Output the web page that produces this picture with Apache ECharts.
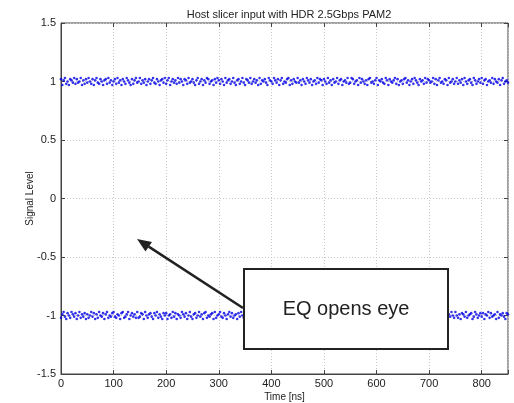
<!DOCTYPE html>
<html>
<head>
<meta charset="utf-8">
<script src="https://cdn.jsdelivr.net/npm/echarts@6/dist/echarts.min.js"></script>
<style>html,body{margin:0;padding:0;background:#fff}#c{width:514px;height:403px}</style>
</head>
<body>
<div id="c"></div>
<script>
// Sampling grid of the captured waveform (ns)
const tStart = 0, tStep = 2.5, tEnd = 850;
// Nominal PAM2 levels
const highLevel = 1, lowLevel = -1;
// Noise around the high level, in hundredths (read/estimated from the picture)
const highDev = [
2,-3,1,3,-2,0,-3,2,1,-1,3,-2,2,-1,0,3,-3,1,-2,2,
-1,3,0,-2,2,-3,1,3,-1,-2,2,0,-3,1,2,-2,3,-1,1,-3,
0,2,-2,3,-1,1,-3,2,0,-2,3,1,-1,-3,2,-2,1,3,-1,0,
3,-2,1,-1,2,-3,0,2,-2,1,3,-1,-2,2,0,-3,1,2,-1,3,
-2,1,3,-3,0,2,-1,1,-2,3,-1,2,0,-3,2,1,-2,3,-1,0,
2,-1,-3,1,3,-2,0,2,-3,1,-1,3,2,-2,0,1,-3,2,-1,3,
1,-2,2,0,-3,3,-1,1,2,-2,0,3,-1,-3,1,2,-2,0,3,-1,
-3,2,1,-1,3,-2,0,2,-1,1,-3,3,-2,1,0,2,-1,-3,3,1,
0,-2,3,1,-1,2,-3,1,3,-2,0,-1,2,3,-3,1,-2,2,0,-1,
3,-1,1,-3,2,0,-2,3,1,-1,2,-3,0,1,-2,3,-1,2,1,-3,
2,0,-2,3,-1,1,-3,2,-1,0,3,-2,1,2,-3,0,1,-1,3,-2,
-1,3,2,-2,0,1,-3,3,-1,2,0,-2,1,-3,2,3,-1,0,-2,1,
3,-3,1,0,2,-1,-2,3,1,-3,2,0,-1,1,3,-2,2,-3,0,1,
-2,2,3,-1,1,-3,0,2,-2,3,1,-1,-3,2,0,1,-2,3,-1,2,
1,-1,0,3,-2,2,-3,1,3,-1,0,-2,2,1,-3,3,-1,0,2,-2,
0,3,-2,1,-1,2,-3,3,0,-2,1,2,-1,-3,3,1,-2,0,2,-1,
3,-2,1,2,-3,0,1,-1,3,-2,2,0,-1,2,-3,1,3,-2,0,1,-1
];
// Noise around the low level, in hundredths
const lowDev = [
-2,1,3,-1,-3,2,0,-2,3,1,-1,2,-3,0,3,-2,1,-1,2,-3,
1,-2,0,3,-1,2,-3,1,-2,3,0,-1,2,-3,1,3,-2,0,-1,2,
3,-1,-2,1,0,-3,2,3,-2,-1,1,3,-3,0,2,-1,1,-2,3,-2,
-1,2,1,-3,3,0,-2,1,2,-1,-3,2,0,3,-2,1,-1,-3,2,0,
2,-3,0,1,-2,3,-1,2,-3,1,0,-2,3,1,-1,2,-3,0,3,-1,
-3,1,2,-2,0,3,-1,1,-3,2,3,-2,0,-1,1,2,-3,3,-2,0,
1,3,-1,-2,2,0,-3,1,3,-1,2,-2,0,1,-3,2,-1,3,0,-2,
-2,0,3,1,-3,2,-1,0,2,-2,1,3,-1,-3,2,0,1,-2,3,-1,
3,-2,1,-1,2,0,-3,2,1,-2,3,-1,0,2,-3,1,-1,3,-2,2,
0,1,-3,2,-1,3,1,-2,0,2,-3,1,3,-1,-2,0,2,-1,1,-3,
-1,3,0,-2,1,2,-3,0,3,-1,1,-2,2,-3,0,1,3,-2,-1,2,
2,-1,-3,3,0,-2,1,2,-1,-3,3,0,1,-2,2,-1,3,-3,1,0,
-3,2,1,0,-1,3,-2,1,2,-3,0,2,-1,3,-2,1,-3,0,2,1,
1,-2,3,-1,0,2,-3,1,-2,3,2,-1,0,-3,1,2,-2,3,-1,0,
-2,3,-1,2,1,-3,0,2,-1,1,3,-2,0,2,-3,1,-1,3,0,-2,
3,0,-2,1,-3,2,1,-1,3,-2,0,1,2,-3,-1,3,1,-2,0,2,
-1,2,-3,1,0,3,-2,2,-1,0,1,-3,3,-2,1,0,2,-1,-3,2,1
];
const xTicks = [0,100,200,300,400,500,600,700,800];
const yTicks = [-1.5,-1,-0.5,0,0.5,1,1.5];

const highPts = [], lowPts = [];
for (let i = 0; i < highDev.length; i++) {
  const t = tStart + i * tStep;
  if (t > tEnd) break;
  highPts.push([t, highLevel + highDev[i] / 100]);
}
for (let i = 0; i < lowDev.length; i++) {
  const t = tStart + i * tStep;
  if (t > tEnd) break;
  lowPts.push([t, lowLevel + lowDev[i] / 100]);
}

const FONT = 'Liberation Sans, Arial, sans-serif';
const axisCol = '#444';
const chart = echarts.init(document.getElementById('c'), null, {renderer: 'canvas'});
const gridLine = {show: true, lineStyle: {color: '#c8c8c8', type: [1, 2], width: 1}};
const tick = {show: true, inside: true, length: 4, lineStyle: {color: axisCol}};
chart.setOption({
  animation: false,
  backgroundColor: '#fff',
  title: {
    text: 'Host slicer input with HDR 2.5Gbps PAM2',
    left: 284, top: 4, textAlign: 'center',
    textStyle: {fontFamily: FONT, fontSize: 11, fontWeight: 'normal', color: '#222'}
  },
  grid: {left: 61, right: 6, top: 23, bottom: 29, containLabel: false, outerBoundsMode: 'none',
    show: true, borderColor: axisCol, borderWidth: 1, backgroundColor: '#fff'},
  xAxis: [{
    type: 'value', min: 0, max: 850, interval: 100, position: 'bottom',
    name: 'Time [ns]', nameLocation: 'middle', nameGap: 18, nameMoveOverlap: false,
    nameTextStyle: {fontFamily: FONT, fontSize: 10, color: '#222'},
    axisLine: {show: true, onZero: false, lineStyle: {color: axisCol}},
    axisTick: tick,
    axisLabel: {fontFamily: FONT, fontSize: 11, color: '#222', margin: 4,
      formatter: v => xTicks.includes(v) ? String(v) : ''},
    splitLine: gridLine
  }, {
    type: 'value', min: 0, max: 850, interval: 100, position: 'top',
    axisLine: {show: false, onZero: false}, axisLabel: {show: false},
    axisTick: tick,
    splitLine: {show: false}
  }],
  yAxis: [{
    type: 'value', min: -1.5, max: 1.5, interval: 0.5, position: 'left',
    name: 'Signal Level', nameLocation: 'middle', nameGap: 26, nameRotate: 90, nameMoveOverlap: false,
    nameTextStyle: {fontFamily: FONT, fontSize: 10, color: '#222'},
    axisLine: {show: true, onZero: false, lineStyle: {color: axisCol}},
    axisTick: tick,
    axisLabel: {fontFamily: FONT, fontSize: 11, color: '#222', margin: 5,
      formatter: v => yTicks.includes(v) ? String(v) : ''},
    splitLine: gridLine
  }, {
    type: 'value', min: -1.5, max: 1.5, interval: 0.5, position: 'right',
    axisLine: {show: false, onZero: false}, axisLabel: {show: false},
    axisTick: tick,
    splitLine: {show: false}
  }],
  series: [{
    type: 'scatter', data: highPts, symbol: 'circle', symbolSize: 2.6,
    itemStyle: {color: '#0000e6'}, silent: true
  }, {
    type: 'scatter', data: lowPts, symbol: 'circle', symbolSize: 2.6,
    itemStyle: {color: '#0000e6'}, silent: true
  }],
  graphic: [
    {type: 'line', z: 100, shape: {x1: 243, y1: 308, x2: 148.7, y2: 246.6},
      style: {stroke: '#222', lineWidth: 2.5}},
    {type: 'polygon', z: 100, shape: {points: [[137, 239], [152, 242], [145.5, 251.5]]},
      style: {fill: '#222'}},
    {type: 'rect', z: 101, shape: {x: 244, y: 269, width: 204, height: 80},
      style: {fill: '#fff', stroke: '#222', lineWidth: 2}},
    {type: 'text', z: 102, x: 346, y: 309,
      style: {text: 'EQ opens eye', font: '20px ' + FONT, fill: '#222', textAlign: 'center', textVerticalAlign: 'middle'}}
  ]
});
</script>
</body>
</html>
